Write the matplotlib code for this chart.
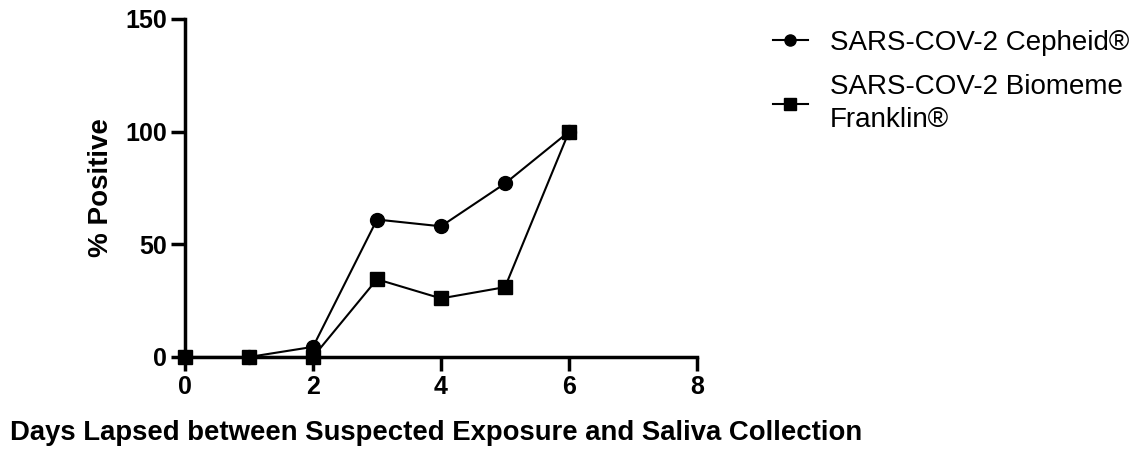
import numpy as np
import matplotlib as mpl
import matplotlib.pyplot as plt

days = [0, 1, 2, 3, 4, 5, 6]
cepheid = [0, 0, 4.5, 61, 58, 77, 100]
biomeme = [0, 0, 0, 34.5, 26, 31, 100]
labels = ["SARS-COV-2 Cepheid®", "SARS-COV-2 Biomeme\nFranklin®"]

mpl.rcParams.update({
    "font.family": ["Liberation Sans", "DejaVu Sans"],
})

fig = plt.figure(figsize=(11.41, 4.49), dpi=100)
ax = fig.add_axes([185 / 1141, 1 - 357 / 449, 512 / 1141, 338 / 449])

ax.plot(days, cepheid, c="black", lw=1.5, marker="o", ms=10, clip_on=False,
        label=labels[0], zorder=3)
ax.plot(days, biomeme, c="black", lw=1.5, marker="s", ms=10, clip_on=False,
        label=labels[1], zorder=4)

ax.set_xlim(0, 8)
ax.set_ylim(0, 150)
ax.set_xticks([0, 2, 4, 6, 8])
ax.set_yticks([0, 50, 100, 150])
for s in ["top", "right"]:
    ax.spines[s].set_visible(False)
for s in ["left", "bottom"]:
    ax.spines[s].set_linewidth(2.5)
ax.tick_params(length=10, width=2.5, labelsize=18, pad=3)
for t in ax.get_xticklabels() + ax.get_yticklabels():
    t.set_fontweight("bold")

# x label sits far left, under the whole figure
fig.text(10 / 1141, 1 - 433 / 449,
         "Days Lapsed between Suspected Exposure and Saliva Collection",
         fontsize=19.8, fontweight="bold", ha="left", va="center")
ax.set_ylabel("% Positive", fontsize=20, fontweight="bold")
ax.yaxis.set_label_coords(-0.139, 0.5)

leg = fig.legend(loc="upper left", bbox_to_anchor=(773 / 1141, 1 - 30 / 449),
                 frameon=False, fontsize=20, handlelength=1.25,
                 handletextpad=0.8, labelspacing=0.65, markerscale=0.8,
                 borderpad=0, borderaxespad=0)
for t in leg.get_texts():
    t.set_linespacing(1.35)

fig.savefig("out.png", dpi=100)
